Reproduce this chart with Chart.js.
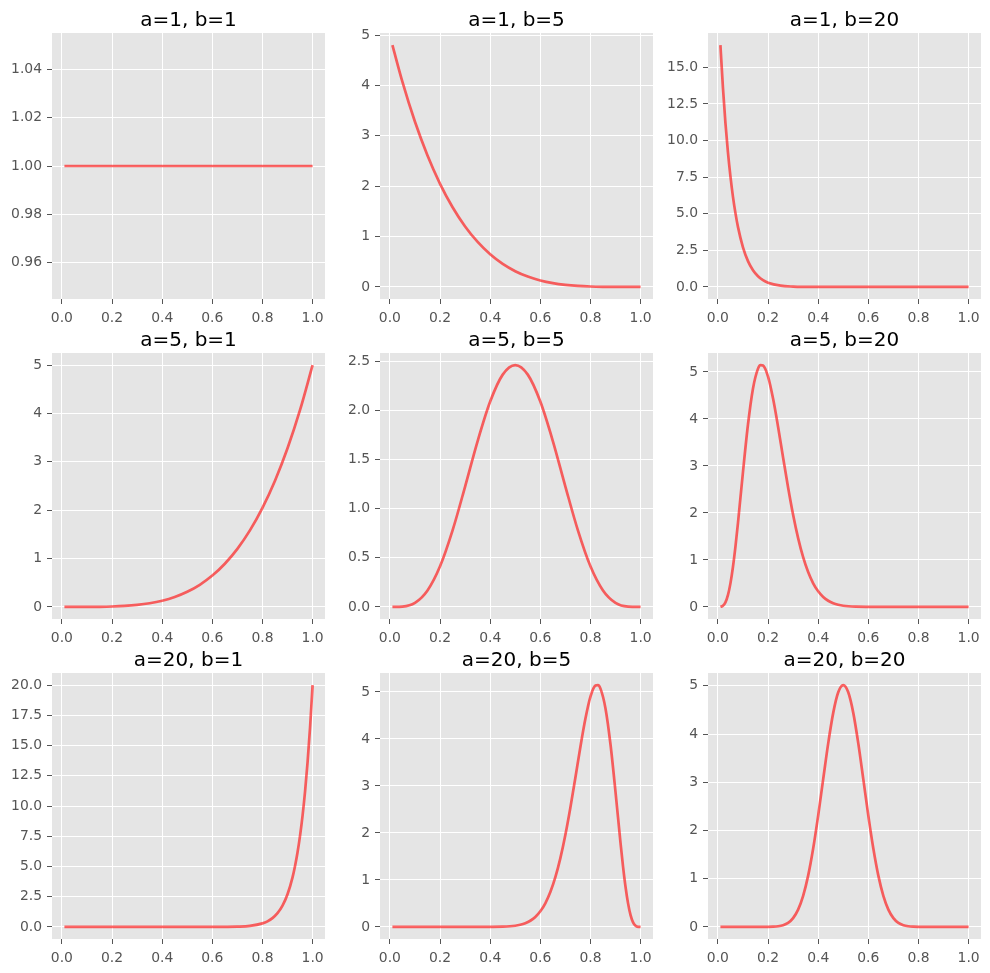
<!DOCTYPE html>
<html>
<head>
<meta charset="utf-8">
<script src="https://cdn.jsdelivr.net/npm/chart.js@4.4.0/dist/chart.umd.min.js"></script>
<style>
  html, body { margin: 0; padding: 0; background: #fff; }
  #fig { position: relative; width: 990px; height: 973px; }
  #fig canvas { position: absolute; }
</style>
</head>
<body>
<div id="fig"></div>
<script>
// beta densities, one panel per (a, b)
const titles = ['a=1, b=1', 'a=1, b=5', 'a=1, b=20',
                'a=5, b=1', 'a=5, b=5', 'a=5, b=20',
                'a=20, b=1', 'a=20, b=5', 'a=20, b=20'];

const x_1_1 = [0.01, 0.5, 1.0];
const y_1_1 = [1.0, 1.0, 1.0];

const x_1_5 = [0.01, 0.05, 0.1, 0.15, 0.2, 0.25, 0.3, 0.35, 0.4, 0.45, 0.5, 0.55, 0.6, 0.65, 0.7, 0.75, 0.8, 0.85, 0.9, 0.95, 1.0];
const y_1_5 = [4.803, 4.0725, 3.2805, 2.610, 2.048, 1.582, 1.2005, 0.893, 0.648, 0.4575, 0.3125, 0.205, 0.128, 0.075, 0.0405, 0.0195, 0.008, 0.0025, 0.0005, 0.00003, 0];

const x_1_20 = [0.01, 0.02, 0.03, 0.04, 0.05, 0.06, 0.07, 0.08, 0.10, 0.12, 0.14, 0.16, 0.18, 0.20, 0.25, 0.30, 0.35, 0.40, 0.50, 0.70, 1.0];
const y_1_20 = [16.52, 13.63, 11.21, 9.21, 7.55, 6.17, 5.04, 4.10, 2.70, 1.76, 1.14, 0.73, 0.46, 0.29, 0.085, 0.023, 0.006, 0.001, 0, 0, 0];

const x_5_1 = [0.01, 0.1, 0.15, 0.2, 0.25, 0.3, 0.35, 0.4, 0.45, 0.5, 0.55, 0.6, 0.65, 0.7, 0.75, 0.8, 0.85, 0.9, 0.95, 1.0];
const y_5_1 = [0, 0.0005, 0.0025, 0.008, 0.0195, 0.0405, 0.075, 0.128, 0.205, 0.3125, 0.4575, 0.648, 0.893, 1.2005, 1.582, 2.048, 2.610, 3.2805, 4.0725, 5.00];

const x_5_5 = [0.01, 0.05, 0.1, 0.15, 0.2, 0.25, 0.3, 0.35, 0.4, 0.45, 0.5, 0.55, 0.6, 0.65, 0.7, 0.75, 0.8, 0.85, 0.9, 0.95, 1.0];
const y_5_5 = [0, 0.003, 0.041, 0.167, 0.413, 0.779, 1.225, 1.688, 2.090, 2.364, 2.461, 2.364, 2.090, 1.688, 1.225, 0.779, 0.413, 0.167, 0.041, 0.003, 0];

const x_5_20 = [0.01, 0.02, 0.03, 0.04, 0.05, 0.06, 0.07, 0.08, 0.10, 0.12, 0.14, 0.16, 0.17, 0.18, 0.20, 0.22, 0.24, 0.26, 0.28, 0.30,
                0.32, 0.34, 0.36, 0.38, 0.40, 0.42, 0.44, 0.46, 0.48, 0.50, 0.55, 0.60, 0.70, 1.0];
const y_5_20 = [0.002, 0.023, 0.097, 0.251, 0.501, 0.850, 1.285, 1.785, 2.871, 3.882, 4.650, 5.072, 5.147, 5.138, 4.901, 4.434, 3.836, 3.182, 2.543, 1.962,
                1.464, 1.058, 0.741, 0.503, 0.332, 0.211, 0.131, 0.078, 0.045, 0.025, 0.005, 0.001, 0, 0];

const x_20_1 = [0.01, 0.3, 0.5, 0.6, 0.65, 0.7, 0.75, 0.8, 0.82, 0.84, 0.86, 0.88, 0.90, 0.92, 0.93, 0.94, 0.95, 0.96, 0.97, 0.98, 0.99, 1.0];
const y_20_1 = [0, 0, 0, 0.001, 0.006, 0.023, 0.085, 0.29, 0.46, 0.73, 1.14, 1.76, 2.70, 4.10, 5.04, 6.17, 7.55, 9.21, 11.21, 13.63, 16.52, 20.0];

const x_20_5 = [0.01, 0.30, 0.40, 0.45, 0.50, 0.52, 0.54, 0.56, 0.58, 0.60, 0.62, 0.64, 0.66, 0.68, 0.70, 0.72, 0.74, 0.76, 0.78, 0.80,
                0.82, 0.83, 0.84, 0.86, 0.88, 0.90, 0.92, 0.93, 0.94, 0.95, 0.96, 0.97, 0.98, 0.99, 1.0];
const y_20_5 = [0, 0, 0.001, 0.005, 0.025, 0.045, 0.078, 0.131, 0.211, 0.332, 0.503, 0.741, 1.058, 1.464, 1.962, 2.543, 3.182, 3.836, 4.434, 4.901,
                5.138, 5.147, 5.072, 4.650, 3.882, 2.871, 1.785, 1.285, 0.850, 0.501, 0.251, 0.097, 0.023, 0.002, 0];

const x_20_20 = [0.01, 0.15, 0.20, 0.22, 0.24, 0.26, 0.28, 0.30, 0.32, 0.34, 0.36, 0.38, 0.40, 0.42, 0.44, 0.46, 0.48, 0.50,
                 0.52, 0.54, 0.56, 0.58, 0.60, 0.62, 0.64, 0.66, 0.68, 0.70, 0.72, 0.74, 0.76, 0.78, 0.80, 0.85, 1.0];
const y_20_20 = [0, 0, 0.001, 0.004, 0.013, 0.035, 0.084, 0.183, 0.359, 0.644, 1.063, 1.625, 2.309, 3.064, 3.807, 4.439, 4.865, 5.015,
                 4.865, 4.439, 3.807, 3.064, 2.309, 1.625, 1.063, 0.644, 0.359, 0.183, 0.084, 0.035, 0.013, 0.004, 0.001, 0, 0];

const xTicks = [0, 0.2, 0.4, 0.6, 0.8, 1.0];
const yTicks = [
  [0.96, 0.98, 1.00, 1.02, 1.04],
  [0, 1, 2, 3, 4, 5],
  [0, 2.5, 5, 7.5, 10, 12.5, 15],
  [0, 1, 2, 3, 4, 5],
  [0, 0.5, 1, 1.5, 2, 2.5],
  [0, 1, 2, 3, 4, 5],
  [0, 2.5, 5, 7.5, 10, 12.5, 15, 17.5, 20],
  [0, 1, 2, 3, 4, 5],
  [0, 1, 2, 3, 4, 5],
];
const yDecimals = [2, 0, 1, 0, 1, 0, 1, 0, 0];

const panelX = [x_1_1, x_1_5, x_1_20, x_5_1, x_5_5, x_5_20, x_20_1, x_20_5, x_20_20];
const panelY = [y_1_1, y_1_5, y_1_20, y_5_1, y_5_5, y_5_20, y_20_1, y_20_5, y_20_20];

const FONT = "'DejaVu Sans', sans-serif";
const LINE = 'rgba(255, 0, 0, 0.6)';

// grey panel behind the grid, ggplot style
const panelBg = {
  id: 'panelBg',
  beforeDraw(chart) {
    const { ctx, chartArea: a } = chart;
    ctx.save();
    ctx.fillStyle = '#E5E5E5';
    ctx.fillRect(a.left, a.top, a.right - a.left, a.bottom - a.top);
    ctx.restore();
  }
};

// matplotlib-like autoscale: 5% margin either side
function limits(vals) {
  let lo = Math.min(...vals), hi = Math.max(...vals);
  if (hi === lo) { lo -= 0.05 * Math.abs(lo); hi += 0.05 * Math.abs(hi); }
  const pad = 0.05 * (hi - lo);
  return [lo - pad, hi + pad];
}

const fig = document.getElementById('fig');

titles.forEach((title, i) => {
  const row = Math.floor(i / 3), col = i % 3;
  const canvas = document.createElement('canvas');
  canvas.width = 330;
  canvas.height = 324;
  canvas.style.left = (col * 328) + 'px';
  canvas.style.top = (row * 320) + 'px';
  canvas.style.width = '330px';
  canvas.style.height = '324px';
  fig.appendChild(canvas);

  const xs = panelX[i], ys = panelY[i];
  const [xMin, xMax] = limits(xs);
  const [yMin, yMax] = limits(ys);

  new Chart(canvas, {
    type: 'line',
    data: {
      datasets: [{
        data: xs.map((x, k) => ({ x: x, y: ys[k] })),
        borderColor: LINE,
        borderWidth: 2.7,
        pointRadius: 0,
        fill: false,
        cubicInterpolationMode: 'monotone',
      }]
    },
    options: {
      responsive: false,
      animation: false,
      devicePixelRatio: 1,
      layout: { padding: { left: 0, right: 5, top: 0, bottom: 0 } },
      plugins: {
        legend: { display: false },
        tooltip: { enabled: false },
        title: {
          display: true,
          fullSize: false,
          text: title,
          color: '#000',
          font: { family: FONT, size: 20, weight: 'normal', lineHeight: 1.2 },
          padding: { top: 9, bottom: 0 },
        },
      },
      scales: {
        x: {
          type: 'linear',
          min: xMin, max: xMax,
          afterBuildTicks: s => { s.ticks = xTicks.map(v => ({ value: v })); },
          afterFit: s => { s.height = 25; },
          border: { display: false },
          grid: { color: '#fff', lineWidth: 1, tickColor: '#555', tickLength: 5 },
          ticks: {
            color: '#555', padding: 6, maxRotation: 0,
            font: { family: FONT, size: 13.9 },
            callback: v => Number(v).toFixed(1),
          },
        },
        y: {
          min: yMin, max: yMax,
          afterBuildTicks: s => { s.ticks = yTicks[i].map(v => ({ value: v })); },
          afterFit: s => { s.width = 52; },
          border: { display: false },
          grid: { color: '#fff', lineWidth: 1, tickColor: '#555', tickLength: 5 },
          ticks: {
            color: '#555', padding: 5,
            font: { family: FONT, size: 13.9 },
            callback: v => Number(v).toFixed(yDecimals[i]),
          },
        },
      },
    },
    plugins: [panelBg],
  });
});
</script>
</body>
</html>
